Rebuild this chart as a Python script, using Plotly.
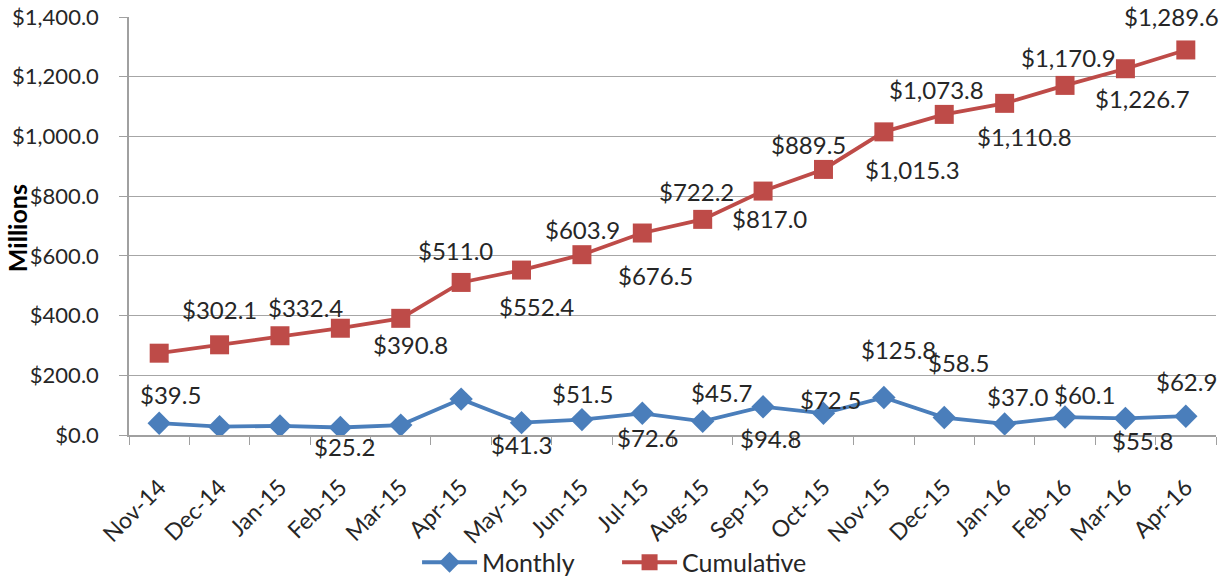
import plotly.graph_objects as go

months = ["Nov-14", "Dec-14", "Jan-15", "Feb-15", "Mar-15", "Apr-15", "May-15", "Jun-15",
          "Jul-15", "Aug-15", "Sep-15", "Oct-15", "Nov-15", "Dec-15", "Jan-16", "Feb-16",
          "Mar-16", "Apr-16"]
monthly = [39.5, 28.0, 30.3, 25.2, 33.2, 120.2, 41.3, 51.5, 72.6, 45.7, 94.8, 72.5,
           125.8, 58.5, 37.0, 60.1, 55.8, 62.9]
cumulative = [274.0, 302.1, 332.4, 357.6, 390.8, 511.0, 552.4, 603.9, 676.5, 722.2,
              817.0, 889.5, 1015.3, 1073.8, 1110.8, 1170.9, 1226.7, 1289.6]
monthly_labeled = [True, False, False, True, False, False, True, True, True, True, True, True,
                   True, True, True, True, True, True]
cumulative_labeled = [False, True, True, False, True, True, True, True, True, True, True, True,
                      True, True, True, True, True, True]

# label offsets (pixels) relative to each marker: style only
monthly_off = [(11, 29), (0, 0), (0, 0), (4, -19), (0, 0), (0, 0), (0, -22), (1, 26), (5, -24),
               (19, 29), (7, -32), (7, 14), (15, 48), (14, 55), (13, 27), (19, 23), (17, -22),
               (1, 35)]
cumulative_off = [(0, 0), (0, 35), (26, 28), (0, 0), (10, -26), (-6, 32), (15, -36), (1, 25),
                  (13, -42), (-6, 28), (6, -27), (-15, 25), (29, -38), (-8, 25), (20, -33),
                  (3, 28), (17, -30), (-14, 33)]

BLUE = "#4A7EBB"
RED = "#BE4B48"
FONT = "Lato"
TXT = "#262626"

fig = go.Figure()
fig.add_trace(go.Scatter(
    x=months, y=monthly, name="Monthly", mode="lines+markers",
    line=dict(color=BLUE, width=3.8),
    marker=dict(symbol="diamond", size=18, color=BLUE),
))
fig.add_trace(go.Scatter(
    x=months, y=cumulative, name="Cumulative", mode="lines+markers",
    line=dict(color=RED, width=3.8),
    marker=dict(symbol="square", size=19, color=RED),
))

for vals, flags, offs in ((monthly, monthly_labeled, monthly_off),
                          (cumulative, cumulative_labeled, cumulative_off)):
    for m, v, f, (dx, dy) in zip(months, vals, flags, offs):
        if not f:
            continue
        fig.add_annotation(x=m, y=v, text=f"${v:,.1f}", showarrow=False,
                           xshift=dx, yshift=dy,
                           font=dict(family=FONT, size=24, color=TXT))

fig.add_annotation(xref="paper", yref="paper", x=-0.103, y=0.495, text="<b>Millions</b>",
                   textangle=-90, showarrow=False, xanchor="center", yanchor="middle",
                   font=dict(family=FONT, size=25, color="black"))

fig.update_layout(
    width=1229, height=577,
    margin=dict(l=129, r=13, t=17, b=142, autoexpand=False),
    paper_bgcolor="white", plot_bgcolor="white",
    font=dict(family=FONT, size=22, color=TXT),
    showlegend=True,
    legend=dict(orientation="h", x=0.449, xanchor="center", y=-0.305, yanchor="middle",
                font=dict(family=FONT, size=25, color=TXT), itemwidth=55,
                entrywidth=130, entrywidthmode="pixels",
                tracegroupgap=0, bgcolor="rgba(0,0,0,0)"),
)
fig.update_xaxes(
    type="category", tickson="boundaries", ticks="outside", ticklen=8,
    tickcolor="#A0A0A0", showline=True, linecolor="#A0A0A0", linewidth=1.5,
    showgrid=False, tickangle=-45, tickfont=dict(family=FONT, size=23, color=TXT),
    range=[-0.5, 17.5], automargin=False, ticklabelstandoff=28,
)
fig.update_yaxes(
    range=[0, 1400], dtick=200, tickformat="$,.1f", ticks="outside", ticklen=8,
    tickcolor="#A0A0A0", showline=True, linecolor="#A0A0A0", linewidth=1.5,
    showgrid=True, gridcolor="#A6A6A6", gridwidth=1.2, zeroline=False,
    tickfont=dict(family=FONT, size=22, color=TXT), automargin=False,
    ticklabelstandoff=16,
)

fig.write_html("out.html", config={"displayModeBar": False},
               post_script="document.body.style.margin='0';")
